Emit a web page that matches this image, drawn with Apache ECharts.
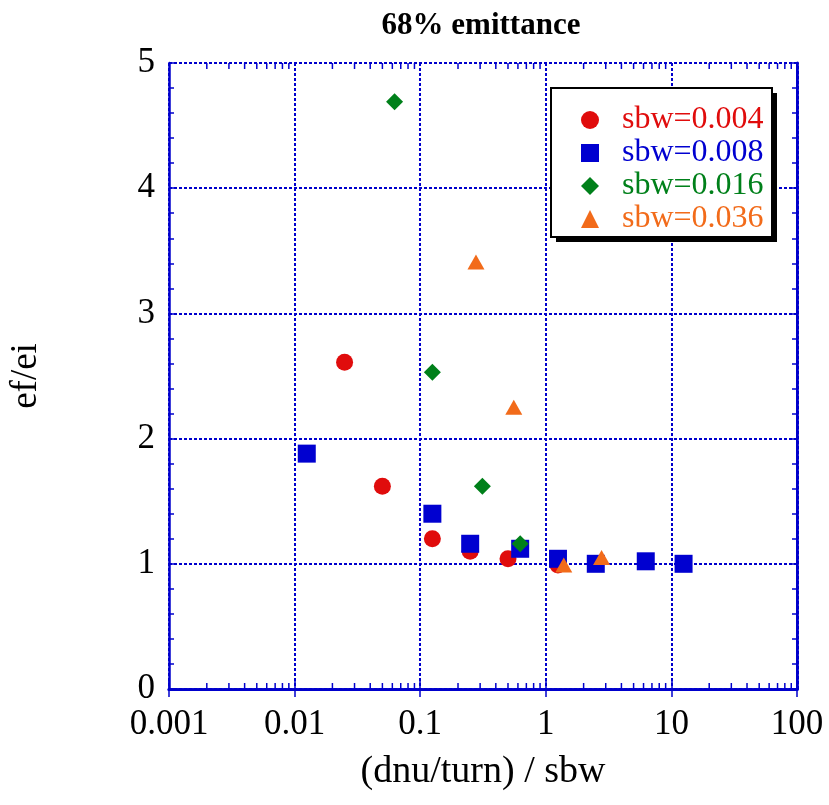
<!DOCTYPE html>
<html>
<head>
<meta charset="utf-8">
<script src="https://cdn.jsdelivr.net/npm/echarts@6/dist/echarts.min.js"></script>
<style>html,body{margin:0;padding:0;background:#fff}#c{width:829px;height:805px}</style>
</head>
<body>
<div id="c"></div>
<script>
// ---- data ----
const seriesNames = ['sbw=0.004', 'sbw=0.008', 'sbw=0.016', 'sbw=0.036'];
const x004 = [0.025, 0.05, 0.125, 0.25, 0.5, 1.25];
const y004 = [2.61, 1.62, 1.20, 1.10, 1.04, 0.99];
const x008 = [0.0125, 0.125, 0.25, 0.625, 1.25, 2.5, 6.25, 12.5];
const y008 = [1.88, 1.40, 1.16, 1.12, 1.04, 1.00, 1.02, 1.00];
const x016 = [0.0625, 0.125, 0.3125, 0.625];
const y016 = [4.69, 2.53, 1.62, 1.16];
const x036 = [0.278, 0.556, 1.39, 2.78];
const y036 = [3.41, 2.25, 0.99, 1.05];
const xTickLabels = ['0.001', '0.01', '0.1', '1', '10', '100'];
const yTickLabels = ['0', '1', '2', '3', '4', '5'];

const FONT = 'Liberation Serif';
const BLUE = '#0000cc';
const colors = ['#e00c0c', '#0000d0', '#00801a', '#f26b1a'];

function pairs(xs, ys) { return xs.map((x, i) => [x, ys[i]]); }

// minor log tick positions (axis decoration)
const minorX = [];
for (let d = -3; d <= 1; d++) {
  for (let m = 2; m <= 9; m++) minorX.push([m * Math.pow(10, d), 0]);
}

const chart = echarts.init(document.getElementById('c'), null, { renderer: 'canvas' });

const dotted = { color: BLUE, width: 2, type: [3, 2] };

const option = {
  animation: false,
  backgroundColor: '#fff',
  title: {
    text: '68% emittance',
    left: 476,
    top: 5,
    textAlign: 'center',
    textStyle: { fontFamily: FONT, fontWeight: 'bold', fontSize: 31, color: '#000' }
  },
  grid: { left: 165, top: 63, width: 632, height: 626, containLabel: false },
  graphic: [
    { type: 'rect', z: 20, shape: { x: 556, y: 93, width: 221, height: 149 }, style: { fill: '#000' } },
    { type: 'rect', z: 21, shape: { x: 551, y: 88, width: 221, height: 149 }, style: { fill: '#fff', stroke: '#000', lineWidth: 2 } }
  ],
  legend: {
    z: 30,
    orient: 'vertical',
    left: 551,
    top: 88,
    padding: [16, 9, 6, 30],
    itemWidth: 18,
    itemHeight: 18,
    itemGap: 1,
    textStyle: { fontFamily: FONT, fontSize: 32, lineHeight: 32, padding: [0, 0, 0, 18] },
    data: seriesNames.map((n, i) => ({ name: n, textStyle: { color: colors[i] } }))
  },
  xAxis: [
    {
      type: 'log', logBase: 10, min: 0.001, max: 100, position: 'bottom',
      name: '(dnu/turn) / sbw', nameLocation: 'middle', nameGap: 64,
      nameTextStyle: { fontFamily: FONT, fontSize: 38, color: '#000' },
      axisLine: { show: true, lineStyle: { color: BLUE, width: 3, type: [3, 2] } },
      axisTick: { show: true, inside: true, length: 8, lineStyle: { color: BLUE, width: 1.5 } },
      axisLabel: {
        fontFamily: FONT, fontSize: 35, color: '#000', margin: 18,
        formatter: function (v) { const k = Math.round(Math.log10(v)) + 3; return xTickLabels[k] !== undefined ? xTickLabels[k] : ''; }
      },
      splitLine: { show: true, lineStyle: { color: BLUE, width: 2, type: [3, 2] } }
    },
    {
      type: 'log', logBase: 10, min: 0.001, max: 100, position: 'top',
      axisLine: { show: true, lineStyle: { color: BLUE, width: 3, type: [3, 2] } },
      axisTick: { show: true, inside: true, length: 8, lineStyle: { color: BLUE, width: 1.5 } },
      axisLabel: { show: false },
      splitLine: { show: false }
    }
  ],
  yAxis: [
    {
      type: 'value', min: 0, max: 5, interval: 1, position: 'left',
      name: 'ef/ei', nameLocation: 'middle', nameGap: 124, nameRotate: 90,
      nameTextStyle: { fontFamily: FONT, fontSize: 37, color: '#000' },
      axisLine: { show: true, lineStyle: { color: BLUE, width: 2.5 } },
      axisTick: { show: true, inside: true, length: 7, lineStyle: { color: BLUE, width: 1.5 } },
      minorTick: { show: true, splitNumber: 5, length: 5, lineStyle: { color: BLUE, width: 1.5 } },
      axisLabel: {
        fontFamily: FONT, fontSize: 35, color: '#000', margin: 14,
        formatter: function (v) { return yTickLabels[Math.round(v)]; }
      },
      splitLine: { show: true, lineStyle: dotted }
    },
    {
      type: 'value', min: 0, max: 5, interval: 1, position: 'right',
      axisLine: { show: true, lineStyle: { color: BLUE, width: 3, type: [3, 2] } },
      axisTick: { show: true, inside: true, length: 7, lineStyle: { color: BLUE, width: 1.5 } },
      minorTick: { show: true, splitNumber: 5, length: 5, lineStyle: { color: BLUE, width: 1.5 } },
      axisLabel: { show: false },
      splitLine: { show: false }
    }
  ],
  series: [
    {
      name: 'minorTicks', type: 'custom', xAxisIndex: 0, yAxisIndex: 0, silent: true, clip: false, z: 3,
      data: minorX,
      renderItem: function (params, api) {
        const v = api.value(0);
        const b = api.coord([v, 0]);
        const t = api.coord([v, 5]);
        const st = { stroke: BLUE, lineWidth: 1.5 };
        return {
          type: 'group',
          children: [
            { type: 'line', shape: { x1: b[0], y1: b[1], x2: b[0], y2: b[1] - 6 }, style: st },
            { type: 'line', shape: { x1: t[0], y1: t[1], x2: t[0], y2: t[1] + 6 }, style: st }
          ]
        };
      }
    },
    { name: seriesNames[0], type: 'scatter', symbol: 'circle', symbolSize: 17, itemStyle: { color: colors[0], opacity: 1 }, data: pairs(x004, y004), z: 5 },
    { name: seriesNames[1], type: 'scatter', symbol: 'rect', symbolSize: 18, itemStyle: { color: colors[1], opacity: 1 }, data: pairs(x008, y008), z: 6 },
    { name: seriesNames[2], type: 'scatter', symbol: 'diamond', symbolSize: 17, itemStyle: { color: colors[2], opacity: 1 }, data: pairs(x016, y016), z: 7 },
    { name: seriesNames[3], type: 'scatter', symbol: 'triangle', symbolSize: [17, 15], itemStyle: { color: colors[3], opacity: 1 }, data: pairs(x036, y036), z: 8 }
  ]
};
chart.setOption(option);
</script>
</body>
</html>
